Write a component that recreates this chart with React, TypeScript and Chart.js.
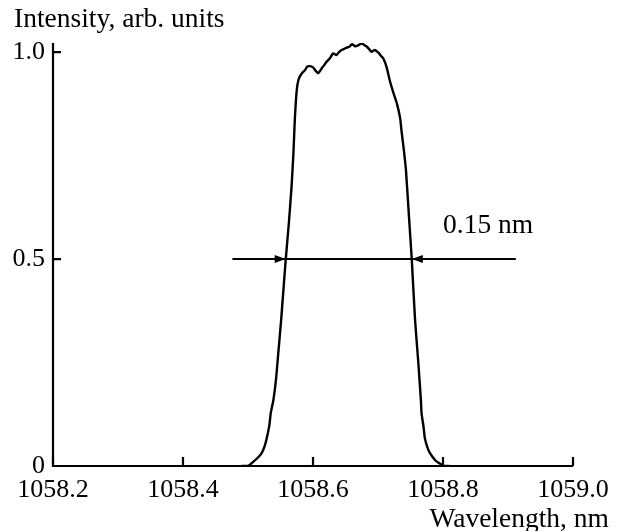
import React, { useEffect, useRef } from "react";
import { Chart, registerables } from "chart.js";

Chart.register(...registerables);

// Spectrum (wavelength in nm, intensity in arb. units)
const wavelength: number[] = [
  1058.49, 1058.5, 1058.508, 1058.515, 1058.521, 1058.526, 1058.529, 1058.533, 1058.535, 1058.539,
  1058.543, 1058.547, 1058.551, 1058.558, 1058.563, 1058.567, 1058.57, 1058.572, 1058.575, 1058.578,
  1058.583, 1058.588, 1058.591, 1058.595, 1058.6, 1058.604, 1058.608, 1058.613, 1058.617, 1058.621,
  1058.626, 1058.631, 1058.636, 1058.64, 1058.644, 1058.648, 1058.652, 1058.656, 1058.66, 1058.665,
  1058.67, 1058.675, 1058.679, 1058.683, 1058.687, 1058.69, 1058.695, 1058.701, 1058.705, 1058.708,
  1058.713, 1058.718, 1058.724, 1058.729, 1058.734, 1058.736, 1058.74, 1058.743, 1058.748, 1058.752,
  1058.757, 1058.762, 1058.766, 1058.767, 1058.77, 1058.772, 1058.776, 1058.78, 1058.788, 1058.794,
  1058.801, 1058.81,
];
const intensity: number[] = [
  0, 0, 0.01, 0.02, 0.031, 0.05, 0.068, 0.1, 0.128, 0.159,
  0.208, 0.28, 0.353, 0.498, 0.59, 0.675, 0.76, 0.836, 0.908, 0.935,
  0.949, 0.957, 0.965, 0.966, 0.963, 0.955, 0.949, 0.96, 0.968, 0.977,
  0.985, 0.997, 0.993, 1.0, 1.005, 1.008, 1.011, 1.013, 1.019, 1.014,
  1.017, 1.021, 1.017, 1.013, 1.006, 1.001, 1.005, 0.998, 0.99, 0.985,
  0.965, 0.932, 0.9, 0.876, 0.841, 0.812, 0.76, 0.715, 0.594, 0.498,
  0.353, 0.25, 0.159, 0.128, 0.095, 0.068, 0.045, 0.031, 0.014, 0.007,
  0, 0,
];

const xTicks: number[] = [1058.2, 1058.4, 1058.6, 1058.8, 1059.0];
const yTicks: number[] = [0, 0.5, 1.0];
const xTickLabels: string[] = ["1058.2", "1058.4", "1058.6", "1058.8", "1059.0"];
const yTickLabels: string[] = ["0", "0.5", "1.0"];

// FWHM annotation
const widthLevel = 0.5;
const widthLineEnds: number[] = [1058.476, 1058.912];
const widthArrowTips: number[] = [1058.558, 1058.752];
const widthLabel = "0.15 nm";
const widthLabelPos = { x: 1058.8, y: 0.563 };

const yTitle = "Intensity, arb. units";
const xTitle = "Wavelength, nm";

const FONT = "'Liberation Serif', 'Times New Roman', serif";
const FS = 26;
const FS_TITLE = 27.5;

export default function App() {
  const ref = useRef<HTMLCanvasElement | null>(null);

  useEffect(() => {
    if (!ref.current) return;

    const decor = {
      id: "decor",
      afterDatasetsDraw(chart: any) {
        const ctx = chart.ctx as CanvasRenderingContext2D;
        const xs = chart.scales.x;
        const ys = chart.scales.y;
        const area = chart.chartArea;
        ctx.save();
        ctx.strokeStyle = "#000";
        ctx.fillStyle = "#000";
        ctx.lineWidth = 2.2;
        // axes lines
        ctx.beginPath();
        ctx.moveTo(area.left, area.top);
        ctx.lineTo(area.left, area.bottom);
        ctx.lineTo(area.right, area.bottom);
        ctx.stroke();
        // inward ticks
        ctx.beginPath();
        for (const v of xTicks) {
          const px = xs.getPixelForValue(v);
          ctx.moveTo(px, area.bottom);
          ctx.lineTo(px, area.bottom - 9);
        }
        for (const v of yTicks) {
          const py = ys.getPixelForValue(v);
          ctx.moveTo(area.left, py);
          ctx.lineTo(area.left + 8, py);
        }
        ctx.stroke();

        // FWHM line + arrows
        const yl = ys.getPixelForValue(widthLevel);
        ctx.lineWidth = 2;
        ctx.beginPath();
        ctx.moveTo(xs.getPixelForValue(widthLineEnds[0]), yl);
        ctx.lineTo(xs.getPixelForValue(widthLineEnds[1]), yl);
        ctx.stroke();
        const drawHead = (tip: number, dir: number) => {
          ctx.beginPath();
          ctx.moveTo(tip, yl);
          ctx.lineTo(tip - dir * 11, yl - 4);
          ctx.lineTo(tip - dir * 11, yl + 4);
          ctx.closePath();
          ctx.fill();
        };
        drawHead(xs.getPixelForValue(widthArrowTips[0]), 1);
        drawHead(xs.getPixelForValue(widthArrowTips[1]), -1);

        ctx.font = `${FS_TITLE}px ${FONT}`;
        ctx.textBaseline = "alphabetic";
        ctx.textAlign = "left";
        ctx.fillText(widthLabel, xs.getPixelForValue(widthLabelPos.x), ys.getPixelForValue(widthLabelPos.y));

        // axis titles
        ctx.fillText(yTitle, 14, 27);
        ctx.textAlign = "right";
        ctx.fillText(xTitle, 609, 527);
        ctx.restore();
      },
    };

    const chart = new Chart(ref.current, {
      type: "line",
      data: {
        datasets: [
          {
            data: wavelength.map((w, i) => ({ x: w, y: intensity[i] })),
            borderColor: "#000",
            borderWidth: 2.4,
            pointRadius: 0,
            tension: 0.2,
            fill: false,
          },
        ],
      },
      options: {
        animation: false,
        responsive: false,
        devicePixelRatio: 1,
        layout: { padding: { top: 43, right: 46, left: 0, bottom: 0 } },
        plugins: { legend: { display: false }, tooltip: { enabled: false }, title: { display: false } },
        scales: {
          x: {
            type: "linear",
            min: 1058.2,
            max: 1059.0,
            border: { display: false },
            grid: { display: false, drawTicks: false },
            afterBuildTicks: (s: any) => {
              s.ticks = xTicks.map((v) => ({ value: v }));
            },
            afterFit: (s: any) => {
              s.height = 65;
            },
            ticks: {
              color: "#000",
              padding: 9,
              maxRotation: 0,
              autoSkip: false,
              font: { family: FONT, size: FS },
              callback: (v: any) => {
                const i = xTicks.findIndex((t) => Math.abs(t - Number(v)) < 1e-6);
                return i >= 0 ? xTickLabels[i] : "";
              },
            },
          },
          y: {
            type: "linear",
            min: 0,
            max: 1.022,
            border: { display: false },
            grid: { display: false, drawTicks: false },
            afterBuildTicks: (s: any) => {
              s.ticks = yTicks.map((v) => ({ value: v }));
            },
            afterFit: (s: any) => {
              s.width = 53;
            },
            ticks: {
              color: "#000",
              padding: 8,
              autoSkip: false,
              font: { family: FONT, size: FS },
              callback: (v: any) => {
                const i = yTicks.findIndex((t) => Math.abs(t - Number(v)) < 1e-6);
                return i >= 0 ? yTickLabels[i] : "";
              },
            },
          },
        },
      },
      plugins: [decor],
    } as any);

    return () => chart.destroy();
  }, []);

  return (
    <div style={{ position: "fixed", left: 0, top: 0, width: 619, height: 531, background: "#fff" }}>
      <canvas ref={ref} width={619} height={531} style={{ width: 619, height: 531, display: "block" }} />
    </div>
  );
}
